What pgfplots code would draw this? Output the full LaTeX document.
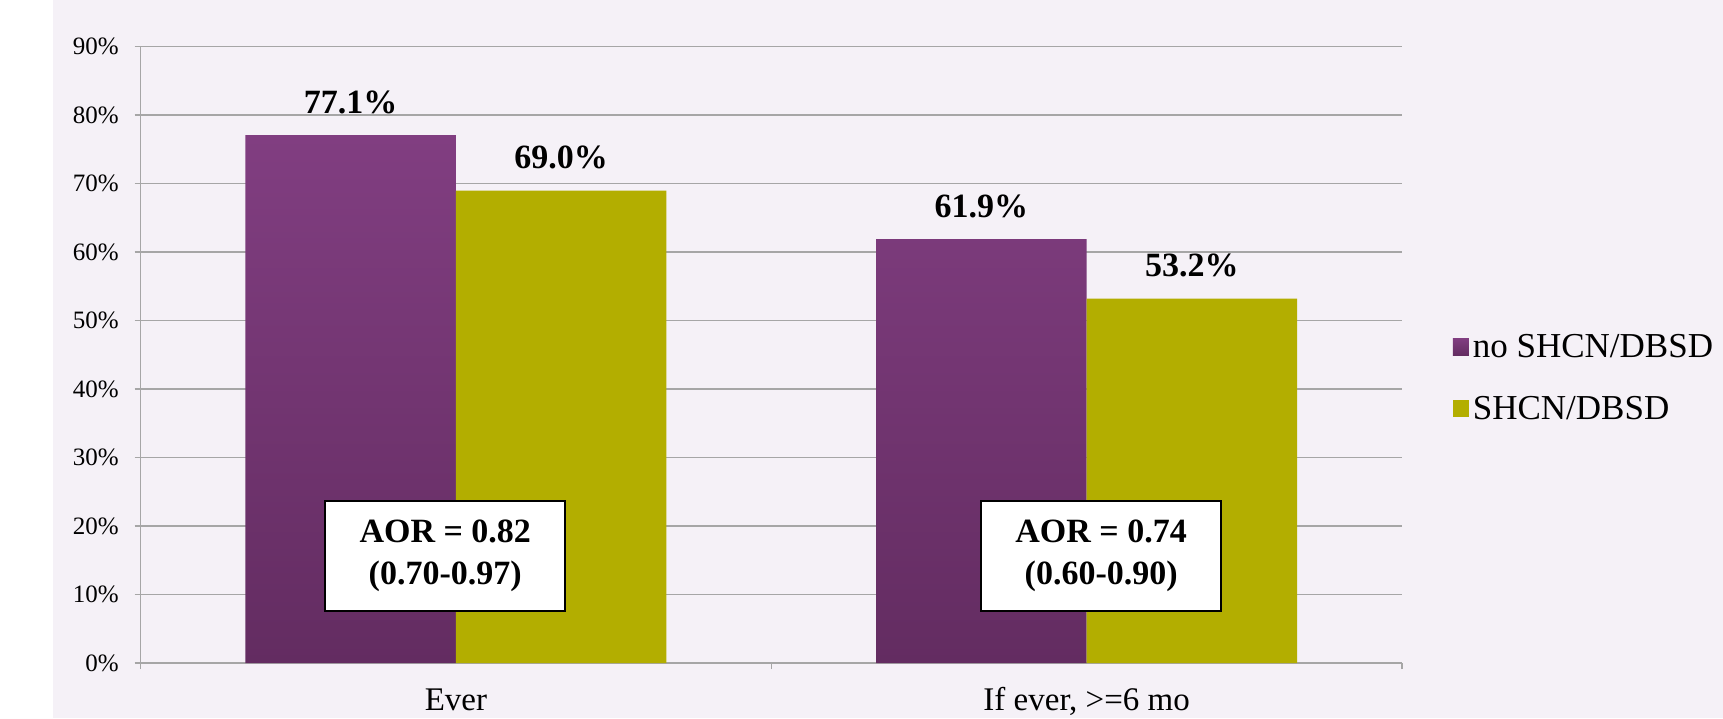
\documentclass[border=0pt]{standalone}
\usepackage{pgfplots}
\pgfplotsset{compat=1.18}
\usepackage{fontspec}
\setmainfont{Liberation Serif}
\definecolor{bg}{RGB}{245,241,247}
\definecolor{gridc}{RGB}{166,166,166}
\definecolor{purtop}{RGB}{129,62,129}
\definecolor{purbot}{RGB}{99,44,97}
\definecolor{olive}{RGB}{179,174,0}
\begin{document}
\begin{tikzpicture}
\useasboundingbox (0,0) rectangle (861.5pt,359pt);
\fill[white] (0,0) rectangle (861.5pt,359pt);
\fill[bg] (26.5pt,0) rectangle (861.5pt,359pt);
\begin{axis}[
  at={(70.3pt,27.5pt)}, anchor=south west,
  scale only axis, width=630.7pt, height=308.15pt,
  xmin=0.5, xmax=2.5, ymin=0, ymax=90,
  ybar=0pt, bar width=105.25pt,
  axis x line*=bottom, axis y line*=left,
  axis line style={gridc, line width=0.75pt},
  tick align=outside, major tick length=3pt,
  tick style={gridc, line width=0.75pt},
  ymajorgrids, grid style={gridc, line width=0.75pt},
  ytick={0,10,...,90},
  yticklabel={\pgfmathprintnumber{\tick}\%},
  /pgf/number format/assume math mode=true,
  yticklabel style={anchor=east, inner sep=0pt, xshift=-7.8pt, font=\fontsize{12.5}{14}\selectfont},
  xtick={0.5,1.5,2.5}, xticklabels={},
  extra x ticks={1,2},
  extra x tick labels={Ever,{If ever, >=6 mo}},
  extra x tick style={major tick length=0pt, xticklabel style={anchor=base, yshift=-23.8pt, font=\fontsize{16.5}{18}\selectfont}},
  nodes near coords={\pgfmathprintnumber[fixed,fixed zerofill,precision=1]{\pgfplotspointmeta}\%},
  nodes near coords style={font=\bfseries\fontsize{17}{20}\selectfont, anchor=south, inner sep=0pt, yshift=10.5pt, text=black},
  legend image code/.code={\path[#1] (0pt,-4pt) rectangle (8pt,4.5pt);},
  legend style={at={(rel axis cs:1.04,0.462)}, anchor=west, draw=none, fill=none,
     font=\fontsize{17.5}{19}\selectfont, row sep=14pt, inner sep=0pt},
  legend cell align=left,
  clip=false,
]
\addplot[draw=none, top color=purtop, bottom color=purbot] coordinates {(1,77.1) (2,61.9)};
\addplot[draw=none, fill=olive] coordinates {(1,69.0) (2,53.2)};
\legend{no SHCN/DBSD, SHCN/DBSD}
\node[draw=black, line width=1pt, fill=white, align=center, minimum width=120pt, minimum height=55pt, inner sep=0pt,
  font=\bfseries\fontsize{17}{21}\selectfont] at (axis cs:0.983,15.6) {AOR = 0.82\\(0.70-0.97)};
\node[draw=black, line width=1pt, fill=white, align=center, minimum width=120pt, minimum height=55pt, inner sep=0pt,
  font=\bfseries\fontsize{17}{21}\selectfont] at (axis cs:2.023,15.6) {AOR = 0.74\\(0.60-0.90)};
\end{axis}
\end{tikzpicture}
\end{document}
